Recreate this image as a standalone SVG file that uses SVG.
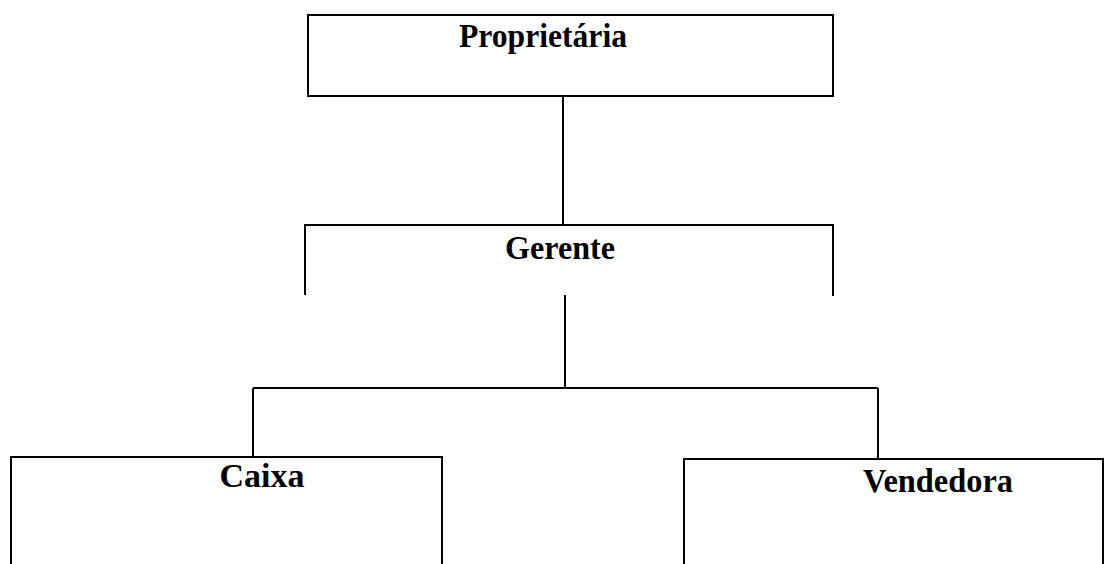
<svg xmlns="http://www.w3.org/2000/svg" width="1109" height="564" viewBox="0 0 1109 564">
<style>
.b{fill:none;stroke:#000;stroke-width:2}
.t{font-family:"Liberation Serif","Times New Roman",serif;font-weight:bold;font-size:34px;fill:#000;text-anchor:middle}
</style>
<rect width="1109" height="564" fill="#fff"/>
<g id="connectors" class="b">
<path d="M563 96V225"/>
<path d="M565 295V388"/>
<path d="M253 388H878"/>
<path d="M253 388V457"/>
<path d="M878 388V459"/>
</g>
<g id="proprietaria">
<rect class="b" x="308" y="15" width="525" height="81"/>
<text class="t" x="543" y="47" textLength="168" lengthAdjust="spacingAndGlyphs">Proprietária</text>
</g>
<g id="gerente">
<path class="b" d="M305 295V225H833V296"/>
<text class="t" x="560" y="259" textLength="110" lengthAdjust="spacingAndGlyphs">Gerente</text>
</g>
<g id="caixa">
<path class="b" d="M11 564V457H442V564"/>
<text class="t" x="262" y="487" textLength="85" lengthAdjust="spacingAndGlyphs">Caixa</text>
</g>
<g id="vendedora">
<path class="b" d="M684 564V459H1103V564"/>
<text class="t" x="938" y="492" textLength="150" lengthAdjust="spacingAndGlyphs">Vendedora</text>
</g>
</svg>
